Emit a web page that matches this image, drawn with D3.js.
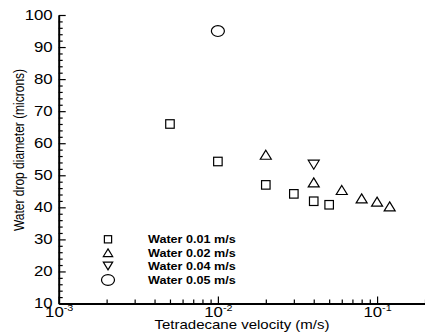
<!DOCTYPE html>
<html lang="en">
<head>
<meta charset="utf-8" />
<title>Water drop diameter vs tetradecane velocity</title>
<style>
  body{margin:0;background:#fff;}
  svg{display:block;font-family:"Liberation Sans",Arial,sans-serif;}
  .axis path,.axis line{stroke:#000;}
  .axis path{stroke-width:2;}
  .axis line{stroke-width:1.2;}
  .mark{fill:none;stroke:#000;stroke-width:1.2;}
</style>
<script src="https://cdn.jsdelivr.net/npm/d3@7.9.0/dist/d3.min.js"></script>
</head>
<body>
<div id="chart"></div>
<script>
/* ───── data ───── */
const sqX  = [0.005, 0.01, 0.02, 0.03, 0.04, 0.05];
const sqY  = [66, 54.3, 47, 44.2, 41.9, 40.8];
const triX = [0.02, 0.04, 0.06, 0.08, 0.1, 0.12];
const triY = [56.4, 47.8, 45.4, 42.8, 41.8, 40.3];
const invX = [0.04];
const invY = [53.3];
const cirX = [0.01];
const cirY = [95];
const legendLabels = ['Water 0.01 m/s','Water 0.02 m/s','Water 0.04 m/s','Water 0.05 m/s'];
const yTicks = [10,20,30,40,50,60,70,80,90,100];
const xTicks = [0.001,0.01,0.1];

/* ───── config ───── */
const W = 425, H = 333;
const SX = 1.2;                 // the original picture is a bit wide-stretched
const x = d3.scaleLog().domain([0.001,0.2]).range([58.7,425]);
const y = d3.scaleLinear().domain([10,100]).range([303.5,15]);

const svg = d3.select('#chart').append('svg')
  .attr('width',W).attr('height',H).attr('viewBox',[0,0,W,H]);

/* minor ticks first (no labels) */
const yMinor = d3.range(10,101,2).filter(v=>v%10!==0);
svg.append('g').attr('class','axis')
  .attr('transform',`translate(${x.range()[0]},0)`)
  .call(d3.axisLeft(y).tickValues(yMinor).tickSize(-4).tickFormat(''))
  .call(g=>g.select('.domain').remove());

const xMinor = [];
[0.001,0.01,0.1].forEach(d=>{ for(let k=2;k<=9;k++){ const v=d*k; if(v<=0.2) xMinor.push(v);} });
svg.append('g').attr('class','axis')
  .attr('transform',`translate(0,${y.range()[0]})`)
  .call(d3.axisBottom(x).tickValues(xMinor).tickSize(-4).tickFormat(''))
  .call(g=>g.select('.domain').remove());

/* y axis */
const yAxis = svg.append('g').attr('class','axis')
  .attr('transform',`translate(${x.range()[0]},0)`)
  .call(d3.axisLeft(y).tickValues(yTicks).tickSize(-7).tickSizeOuter(0).tickPadding(5));
yAxis.selectAll('text')
  .attr('font-size',14).attr('fill','#000')
  .attr('transform',`scale(${SX},1)`);

/* x axis */
const xAxis = svg.append('g').attr('class','axis')
  .attr('transform',`translate(0,${y.range()[0]})`)
  .call(d3.axisBottom(x).tickValues(xTicks).tickSize(-7).tickSizeOuter(0).tickFormat(''));
xAxis.selectAll('.tick').append('text')
  .attr('fill','#000').attr('text-anchor','middle')
  .attr('y',13.5).attr('font-size',14)
  .attr('transform',`scale(${SX},1)`)
  .each(function(d){
    const t = d3.select(this);
    t.append('tspan').text('10');
    t.append('tspan').attr('font-size',9).attr('dy',-6).text(Math.round(Math.log10(d)));
  });

/* axis titles */
svg.append('text')
  .attr('transform',`translate(24,150) scale(${SX},1) rotate(-90)`)
  .attr('text-anchor','middle').attr('font-size',12).text('Water drop diameter (microns)');
svg.append('text')
  .attr('transform',`translate(242,328.5) scale(${SX},1)`)
  .attr('text-anchor','middle').attr('font-size',12.5).text('Tetradecane velocity (m/s)');

/* marker shapes */
const shapes = {
  square: (g,s)=>g.append('rect').attr('x',-s/2).attr('y',-s/2).attr('width',s).attr('height',s),
  up:     (g,s)=>g.append('path').attr('d',`M0,${-s*0.45}L${s*0.55},${s*0.45}L${-s*0.55},${s*0.45}Z`),
  down:   (g,s)=>g.append('path').attr('d',`M0,${s*0.45}L${s*0.55},${-s*0.45}L${-s*0.55},${-s*0.45}Z`),
  circle: (g,s)=>g.append('ellipse').attr('rx',s*0.62).attr('ry',s*0.52)
};

const series = [
  {xs:sqX, ys:sqY, shape:'square', size:8.5},
  {xs:triX,ys:triY,shape:'up',     size:10},
  {xs:invX,ys:invY,shape:'down',   size:10},
  {xs:cirX,ys:cirY,shape:'circle', size:10.5}
];

const plot = svg.append('g');
series.forEach(s=>{
  s.xs.forEach((v,i)=>{
    const g = plot.append('g').attr('class','mark')
      .attr('transform',`translate(${x(v)},${y(s.ys[i])})`);
    shapes[s.shape](g,s.size);
  });
});

/* legend */
const legY = [239.3,252.7,266,280];
const leg = svg.append('g');
series.forEach((s,i)=>{
  const g = leg.append('g').attr('class','mark').attr('transform',`translate(108,${legY[i]})`);
  shapes[s.shape](g,s.shape==='circle'?s.size:s.size*0.85);
  leg.append('text')
    .attr('transform',`translate(148,${legY[i]+4}) scale(${SX},1)`)
    .attr('font-size',10.5).attr('font-weight','bold').text(legendLabels[i]);
});
</script>
</body>
</html>
